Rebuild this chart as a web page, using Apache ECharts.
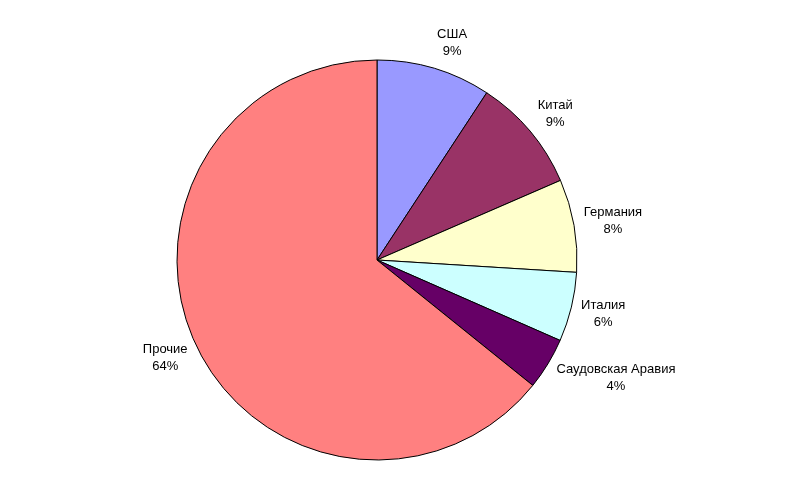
<!DOCTYPE html>
<html>
<head>
<meta charset="utf-8">
<script src="https://cdn.jsdelivr.net/npm/echarts@6/dist/echarts.min.js"></script>
<style>
html,body{margin:0;padding:0;background:#fff;}
#chart{width:800px;height:498px;}
</style>
</head>
<body>
<div id="chart"></div>
<script>
var categories = ['США', 'Китай', 'Германия', 'Италия', 'Саудовская Аравия', 'Прочие'];
var values = [9.24, 9.24, 7.5, 5.6, 4.2, 64.2];
var colors = ['#9999FF', '#993366', '#FFFFCC', '#CCFFFF', '#660066', '#FF8080'];

var CX = 377, CY = 260, R = 200, LABEL_R = 210;
var total = values.reduce(function (a, b) { return a + b; }, 0);
var midAngles = [];
(function () {
  var acc = 0;
  for (var i = 0; i < values.length; i++) {
    var mid = (acc + values[i] / 2) / total * Math.PI * 2;
    midAngles.push(mid);
    acc += values[i];
  }
})();

var chart = echarts.init(document.getElementById('chart'), null, {renderer: 'canvas'});
chart.setOption({
  animation: false,
  backgroundColor: '#ffffff',
  series: [{
    type: 'pie',
    center: [CX, CY],
    radius: [0, R],
    startAngle: 90,
    clockwise: true,
    avoidLabelOverlap: false,
    data: categories.map(function (c, i) {
      return {name: c, value: values[i], itemStyle: {color: colors[i]}};
    }),
    itemStyle: {borderColor: '#000000', borderWidth: 1},
    emphasis: {disabled: true},
    labelLine: {show: false},
    label: {
      show: true,
      position: 'outside',
      fontFamily: 'Liberation Sans, Arial, sans-serif',
      fontSize: 13,
      lineHeight: 17,
      color: '#000000',
      align: 'center',
      formatter: function (p) { return p.name + '\n' + Math.round(p.percent) + '%'; }
    },
    labelLayout: function (params) {
      var t = midAngles[params.dataIndex];
      var s = Math.sin(t), c = Math.cos(t);
      var w = params.labelRect.width, h = params.labelRect.height;
      var x = CX + LABEL_R * s + (s >= 0 ? 1 : -1) * w / 2;
      var y = CY - LABEL_R * c - c * h / 2;
      return {x: x, y: y, align: 'center', verticalAlign: 'middle'};
    }
  }]
});
</script>
</body>
</html>
